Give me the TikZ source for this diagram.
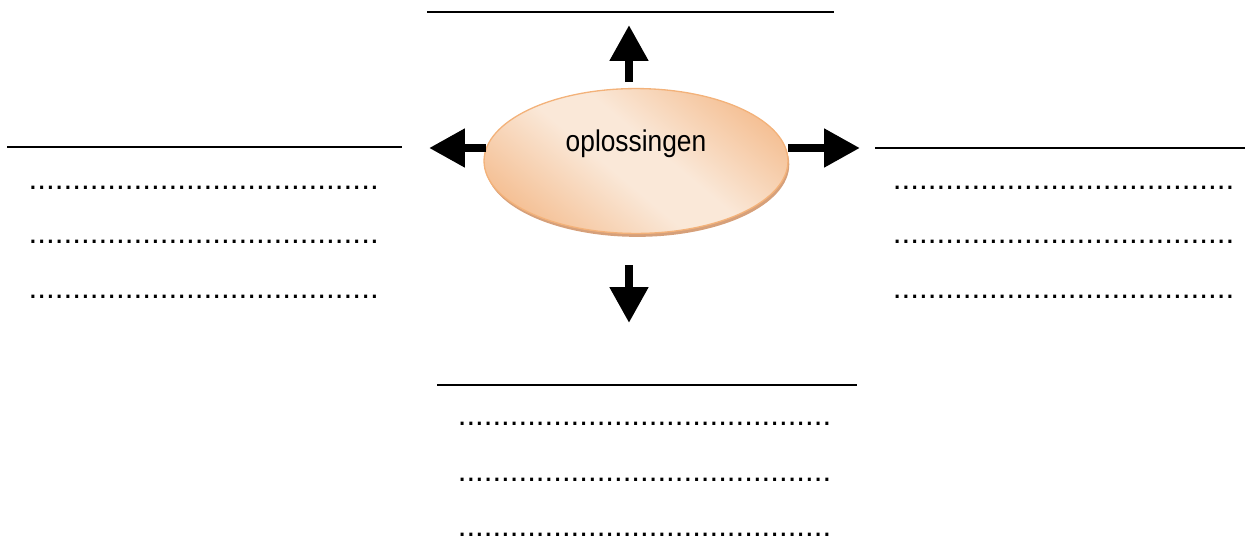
\documentclass[tikz,border=0pt]{standalone}
\usepackage{fontspec}
\setmainfont{Liberation Sans}
\newfontfamily\blobfont[FakeStretch=0.88]{Liberation Sans}
\usetikzlibrary{arrows.meta,shapes.geometric,shadows}
\definecolor{BlobClr}{RGB}{244,188,142}
\definecolor{BlobLightClr}{RGB}{250,232,216}
\definecolor{BlobLineClr}{RGB}{243,178,122}
\definecolor{ShadowClr}{RGB}{210,150,108}
\pgfdeclareverticalshading{blobshade}{100bp}{color(0bp)=(BlobClr); color(22bp)=(BlobClr);
  color(45bp)=(BlobLightClr); color(55bp)=(BlobLightClr); color(78bp)=(BlobClr); color(100bp)=(BlobClr)}

\begin{document}
\begin{tikzpicture}[x=0.381pt,y=-0.381pt,
  blob/.style={ellipse,minimum width=115.8pt,minimum height=55.2pt,inner sep=0pt,
    draw=BlobLineClr,line width=0.5pt,shading=blobshade,shading angle=-40,
    drop shadow={shadow xshift=0.5pt,shadow yshift=-1.3pt,fill=ShadowClr,opacity=0.9}},
  bigarrow/.style={line width=3.3pt,-{Triangle[width=14pt,length=13.7pt]}},
  rule/.style={line width=0.55pt},
  dots/.style={font=\fontsize{12}{14}\selectfont,anchor=base west,inner sep=0pt}]
\useasboundingbox (0,0) rectangle (1249,541);

\node[blob] (opl) at (636,161) {};
\node[font=\blobfont\fontsize{11.4}{13}\selectfont,anchor=base,inner sep=0pt] (oplt) at (636,151.5) {oplossingen};

\coordinate (upS) at (629,82);   \coordinate (upE) at (629,25);
\coordinate (leftS) at (486,148); \coordinate (leftE) at (429,148);
\coordinate (rightS) at (788,148); \coordinate (rightE) at (860,148);
\coordinate (downS) at (629,265); \coordinate (downE) at (629,323);

\draw[bigarrow] (upS) -- (upE);
\draw[bigarrow] (leftS) -- (leftE);
\draw[bigarrow] (rightS) -- (rightE);
\draw[bigarrow] (downS) -- (downE);

% answer lines
\draw[rule] (427,12) -- (834,12);
\draw[rule,line width=0.75pt] (7,147) -- (402,147);
\draw[rule] (875,148) -- (1245,148);
\draw[rule] (437,385) -- (857,385);

\node[dots] (left1) at (28,189) {........................................};
\node[dots] (left2) at (28,243.5) {........................................};
\node[dots] (left3) at (28,298.5) {........................................};

\node[dots] (right1) at (892.3,189) {.......................................};
\node[dots] (right2) at (892.3,243.5) {.......................................};
\node[dots] (right3) at (892.3,298.5) {.......................................};

\node[dots,font=\fontsize{11.9}{14}\selectfont] (down1) at (457.3,425.5) {...........................................};
\node[dots,font=\fontsize{11.9}{14}\selectfont] (down2) at (457.3,481.5) {...........................................};
\node[dots,font=\fontsize{11.9}{14}\selectfont] (down3) at (457.3,536.5) {...........................................};

\end{tikzpicture}
\end{document}
